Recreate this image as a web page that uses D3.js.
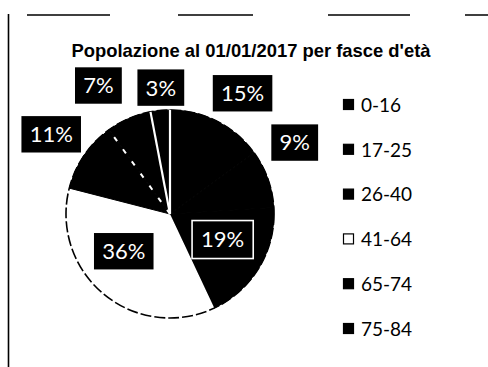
<!DOCTYPE html>
<html>
<head>
<meta charset="utf-8">
<script src="https://cdn.jsdelivr.net/npm/d3@7"></script>
<style>
  html, body { margin: 0; padding: 0; background: #fff; overflow: hidden; }
  svg { display: block; }
</style>
</head>
<body>
<svg id="chart" width="488" height="367"></svg>
<script>
// Population on 01/01/2017 by age band (share of residents, %)
const chartTitle = "Popolazione al 01/01/2017 per fasce d'età";
const categories = ["0-16", "17-25", "26-40", "41-64", "65-74", "75-84", "85+"];
const shares = [15, 9, 19, 36, 11, 7, 3];

// Slice styling (monochrome print)
const sliceFill = ["#000", "#000", "#000", "#fff", "#000", "#000", "#000"];
// visible white edge on the leading side of a slice (and trailing side for the last one)
const sliceEdge = [null, null, null, null, null, "dashed", "solid"];
const labelInside = [false, false, true, true, false, false, false];
// small offsets that keep neighbouring labels from colliding
const labelNudge = [[9, 4], [-7, -24], [1, -5], [-8, -9], [-3, -1], [-16, 0], [4, 13]];

const W = 488, H = 367;
const cx = 170, cy = 214, R = 104;

const svg = d3.select("#chart");

// chart frame (partially faded in print)
svg.append("line")
  .attr("x1", 8.5).attr("x2", 8.5).attr("y1", 14).attr("y2", H)
  .attr("stroke", "#000").attr("stroke-width", 1.6);
svg.append("line")
  .attr("x1", 27).attr("x2", W).attr("y1", 15).attr("y2", 15)
  .attr("stroke", "#000").attr("stroke-width", 1.6)
  .attr("stroke-dasharray", "83,68,75,75,82,55,30");

// title
svg.append("text")
  .attr("x", 251).attr("y", 57)
  .attr("text-anchor", "middle")
  .attr("font-family", "'Liberation Sans', Arial, sans-serif")
  .attr("font-weight", "bold")
  .attr("font-size", 18.4)
  .attr("fill", "#000")
  .text(chartTitle);

// pie
const pie = d3.pie().sort(null).value(d => d)(shares);
const arc = d3.arc().innerRadius(0).outerRadius(R);
const g = svg.append("g").attr("transform", `translate(${cx},${cy})`);

g.selectAll("path.slice")
  .data(pie)
  .join("path")
  .attr("class", "slice")
  .attr("d", arc)
  .attr("fill", (d, i) => sliceFill[i])
  .attr("stroke", (d, i) => sliceFill[i] === "#fff" ? "none" : sliceFill[i])
  .attr("stroke-width", 1)
  .attr("stroke-linejoin", "round");

// outline of the pie
g.append("circle")
  .attr("r", R)
  .attr("fill", "none")
  .attr("stroke", "#000")
  .attr("stroke-width", 1.6)
  .attr("stroke-dasharray", "11,3");

// white radial separators between the small dark slices
function separator(angle, dashed) {
  const [x, y] = d3.pointRadial(angle, R);
  g.append("line")
    .attr("x1", 0).attr("y1", 0).attr("x2", x).attr("y2", y)
    .attr("stroke", "#fff")
    .attr("stroke-width", dashed ? 2 : 2.2)
    .attr("stroke-dasharray", dashed ? "5,10" : null);
}
pie.forEach((d, i) => {
  const style = sliceEdge[i];
  if (!style) return;
  separator(d.startAngle, style === "dashed");
  if (i === pie.length - 1) separator(d.endAngle, style === "dashed");
});

// data labels
const innerLabelArc = d3.arc().innerRadius(60).outerRadius(60);
const outerLabelArc = d3.arc().innerRadius(140).outerRadius(140);

pie.forEach((d, i) => {
  const c = (labelInside[i] ? innerLabelArc : outerLabelArc).centroid(d);
  const x = c[0] + labelNudge[i][0];
  const y = c[1] + labelNudge[i][1];
  const lg = g.append("g").attr("transform", `translate(${x},${y})`);
  const box = lg.append("rect");
  const t = lg.append("text")
    .attr("text-anchor", "middle")
    .attr("dy", "0.36em")
    .attr("font-family", "Lato, 'Open Sans', sans-serif")
    .attr("font-size", 22)
    .attr("fill", "#fff")
    .text(`${d.data}%`);
  const w = t.node().getComputedTextLength() + 18;
  const h = 38;
  box.attr("x", -w / 2).attr("y", -h / 2)
    .attr("width", w).attr("height", h)
    .attr("fill", "#000")
    .attr("stroke", "#fff")
    .attr("stroke-width", 1.6);
});

// legend (rows that do not fit in the chart area are cut off)
const legendX = 343, legendY0 = 105, legendStep = 44.8;
const lg = svg.append("g");
categories.forEach((name, i) => {
  const y = legendY0 + i * legendStep;
  if (y + 8 > H) return;
  lg.append("rect")
    .attr("x", legendX + 0.5).attr("y", y - 5.5)
    .attr("width", 10).attr("height", 10)
    .attr("fill", sliceFill[i])
    .attr("stroke", "#000").attr("stroke-width", 1.2);
  lg.append("text")
    .attr("x", legendX + 18).attr("y", y)
    .attr("dy", "0.36em")
    .attr("font-family", "Lato, 'Open Sans', sans-serif")
    .attr("font-size", 19)
    .attr("fill", "#000")
    .text(name);
});
</script>
</body>
</html>
